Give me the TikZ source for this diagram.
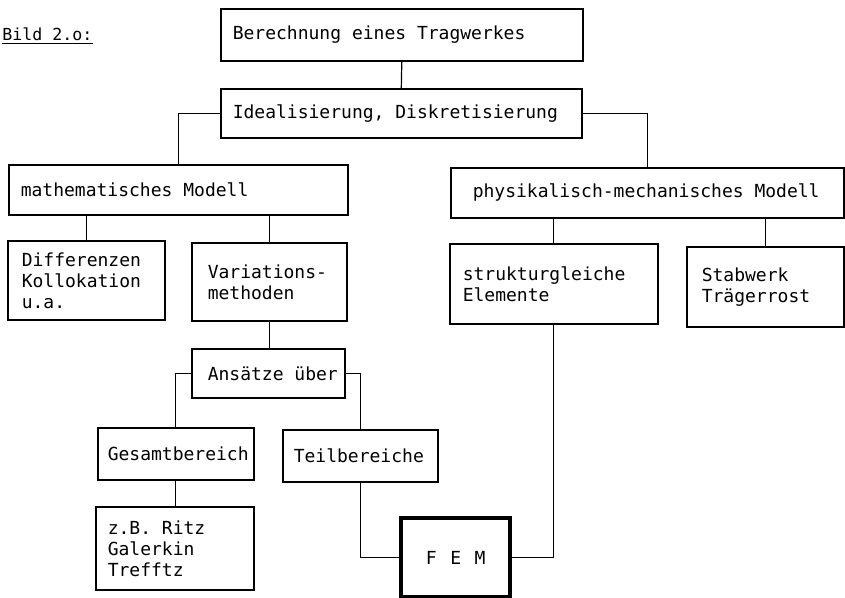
\documentclass[tikz,border=0pt]{standalone}
\usepackage{fontspec}
\newfontfamily\typew{DejaVu Sans Mono}
\hyphenpenalty=10000
\exhyphenpenalty=10000

\begin{document}
\begin{tikzpicture}[x=0.5pt,y=-0.5pt,
  txt/.style={font=\typew\fontsize{9pt}{10.5pt}\selectfont,
    execute at begin node={\spaceskip=\fontcharwd\font`x\xspaceskip=\spaceskip}},
  blk/.style={draw,line width=0.8pt,anchor=north west,align=left,inner ysep=0pt,txt},
  con/.style={line width=0.6pt}]
  \useasboundingbox (0,0) rectangle (845,598);

  \node[txt,font=\typew\fontsize{8.3pt}{10pt}\selectfont,anchor=base west,inner sep=0pt] (bild) at (2,41) {Bild 2.o:};
  \draw[con] ([yshift=-1pt]bild.south west) -- ([yshift=-1pt]bild.south east);

  \node[blk,inner xsep=6pt,text width=169pt,minimum height=26pt] (berech) at (220,8) {Berechnung eines Tragwerkes};
  \node[blk,inner xsep=6pt,text width=168.5pt,minimum height=24.5pt] (ideal) at (220,88) {Idealisierung, Diskretisierung};

  \node[blk,inner xsep=6pt,text width=157.5pt,minimum height=25pt] (math) at (8,164) {mathematisches Modell};
  \node[blk,inner xsep=11pt,text width=174.5pt,minimum height=25pt] (phys) at (450,167) {physikalisch-mechanisches Modell};

  \node[blk,inner xsep=7pt,text width=64.5pt,minimum height=39.5pt] (diff) at (7,240) {Differenzen\\Kollokation\\u.a.};
  \node[blk,inner xsep=8pt,text width=61.5pt,minimum height=39pt] (var) at (191,242) {Variations-\\methoden};
  \node[blk,inner xsep=6.5pt,text width=91pt,minimum height=40pt] (struk) at (449,243) {strukturgleiche\\Elemente};
  \node[blk,inner xsep=7.5pt,text width=63.5pt,minimum height=40pt] (stab) at (686,246) {Stabwerk\\Trägerrost};

  \node[blk,inner xsep=8pt,text width=60.5pt,minimum height=24.5pt] (ans) at (191,348) {Ansätze~über};
  \node[blk,inner xsep=5pt,text width=68pt,minimum height=26pt] (gesamt) at (97,427) {Gesamtbereich};
  \node[blk,inner xsep=5.5pt,text width=66.5pt,minimum height=26pt] (teil) at (282,429) {Teilbereiche};
  \node[blk,inner xsep=6pt,text width=67pt,minimum height=41.5pt] (zb) at (95,506) {z.B. Ritz\\Galerkin\\Trefftz};
  \node[blk,align=center,line width=2.2pt,inner xsep=6pt,text width=42.5pt,minimum height=39.5pt] (fem) at (399,516) {\spaceskip=6.8pt F E M};

  \draw[con] (berech.south) -- (ideal.north);
  \draw[con] (ideal.west) -| (math.north);
  \draw[con] (ideal.east) -| (phys.north);
  \draw[con] (math.south -| diff.north) -- (diff.north);
  \draw[con] (math.south -| var.north) -- (var.north);
  \draw[con] (phys.south -| struk.north) -- (struk.north);
  \draw[con] (phys.south -| stab.north) -- (stab.north);
  \draw[con] (var.south) -- (var.south |- ans.north);
  \draw[con] (ans.west) -| (gesamt.north);
  \draw[con] (ans.east) -| (teil.north);
  \draw[con] (gesamt.south) -- (gesamt.south |- zb.north);
  \draw[con] (teil.south) |- (fem.west);
  \draw[con] (fem.east) -| (struk.south);
\end{tikzpicture}
\end{document}
